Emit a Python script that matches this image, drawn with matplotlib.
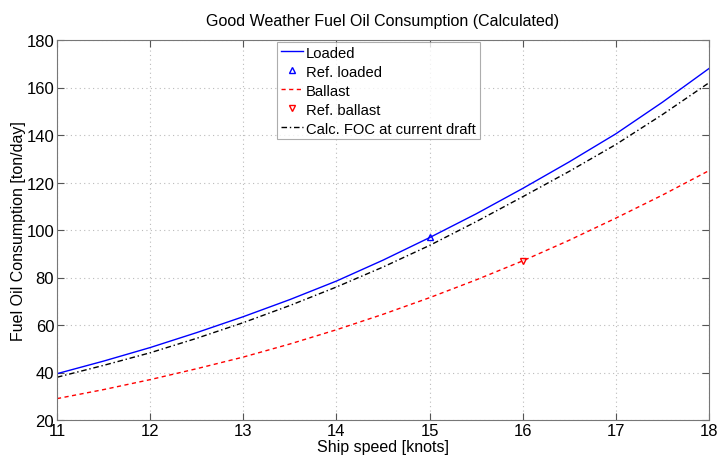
import matplotlib
matplotlib.use("Agg")
import matplotlib.pyplot as plt

plt.rcParams['font.family'] = ['Liberation Sans', 'DejaVu Sans']

speed = [11, 11.5, 12, 12.5, 13, 13.5, 14, 14.5, 15, 15.5, 16, 16.5, 17, 17.5, 18]
loaded = [39.5, 44.8, 50.5, 56.8, 63.5, 70.7, 78.5, 87.3, 96.8, 106.8, 117.5, 128.7, 140.5, 153.8, 168.0]
ballast = [29.0, 32.8, 37.0, 41.6, 46.5, 52.0, 58.0, 64.5, 71.5, 79.0, 87.0, 95.7, 105.0, 114.7, 125.0]
calc = [38.0, 43.0, 48.3, 54.4, 61.0, 68.2, 76.0, 84.4, 93.5, 103.5, 114.0, 124.7, 136.0, 148.6, 162.0]

ref_loaded_x = [15]
ref_loaded_y = [97.0]
ref_ballast_x = [16]
ref_ballast_y = [86.8]

xticks = [11, 12, 13, 14, 15, 16, 17, 18]
yticks = [20, 40, 60, 80, 100, 120, 140, 160, 180]

fig = plt.figure(figsize=(7.24, 4.64), dpi=100)
ax = fig.add_axes([57/724, 43/464, 652/724, 380/464])

ax.plot(speed, loaded, color='#0000ff', lw=1.0, label='Loaded')
ax.plot(ref_loaded_x, ref_loaded_y, linestyle='none', marker='^', ms=4,
        mfc='none', mec='#0000ff', mew=1.0, label='Ref. loaded')
ax.plot(speed, ballast, color='#ff0000', lw=1.0, ls=(0, (3, 2.5)), label='Ballast')
ax.plot(ref_ballast_x, ref_ballast_y, linestyle='none', marker='v', ms=4,
        mfc='none', mec='#ff0000', mew=1.0, label='Ref. ballast')
ax.plot(speed, calc, color='black', lw=1.0, ls=(0, (4, 2, 1, 2)), label='Calc. FOC at current draft')

ax.set_xlim(11, 18)
ax.set_ylim(20, 180)
ax.set_xticks(xticks)
ax.set_yticks(yticks)
ax.tick_params(direction='in', top=True, right=True, labelsize=12, length=5,
               color='#555555', pad=2)
for s in ax.spines.values():
    s.set_color('#777777')
    s.set_linewidth(0.8)
ax.grid(True, linestyle=(0, (1, 3)), color='#bbbbbb', linewidth=0.8)

ax.set_title('Good Weather Fuel Oil Consumption (Calculated)', fontsize=11.5, pad=11)
ax.set_xlabel('Ship speed [knots]', fontsize=11.5, labelpad=1)
ax.set_ylabel('Fuel Oil Consumption [ton/day]', fontsize=11.5)
ax.yaxis.set_label_coords(-0.047, 0.5)

leg = ax.legend(loc='upper left', bbox_to_anchor=(0.338, 0.995), fontsize=10.6,
                frameon=True, fancybox=False, edgecolor='#999999',
                handlelength=1.5, handletextpad=0.2, borderpad=0.25,
                labelspacing=0.34, borderaxespad=0)
leg.get_frame().set_linewidth(0.8)

fig.savefig('out.png', dpi=100)
